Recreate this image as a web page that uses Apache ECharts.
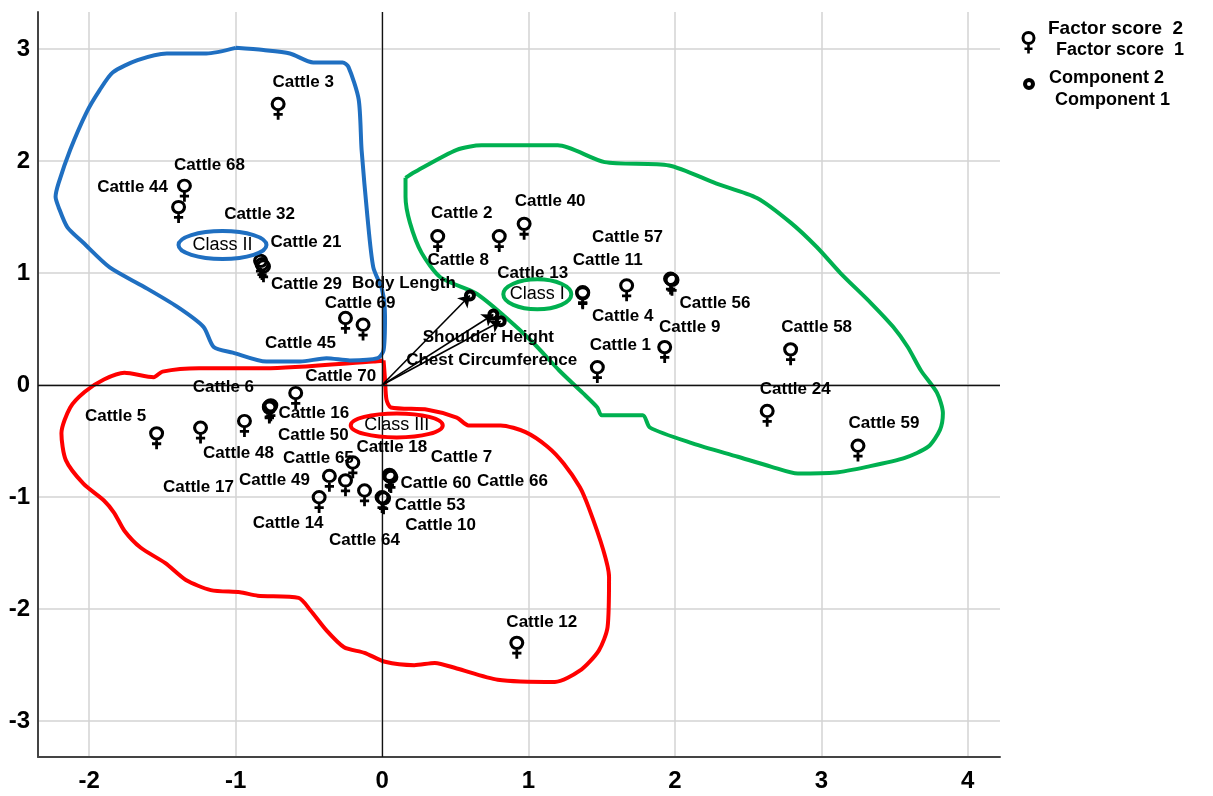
<!DOCTYPE html>
<html><head><meta charset="utf-8">
<script src="https://cdn.jsdelivr.net/npm/echarts@6/dist/echarts.min.js"></script>
<style>html,body{margin:0;padding:0;background:#fff}#chart{width:1213px;height:796px}</style>
</head><body><div id="chart"></div>
<script>
// ---------------- DATA ----------------
const cattleNames = [
  'Cattle 3','Cattle 68','Cattle 44','Cattle 32','Cattle 21','Cattle 29','Cattle 45','Cattle 69',
  'Cattle 2','Cattle 8','Cattle 40','Cattle 57','Cattle 56','Cattle 11','Cattle 13','Cattle 4','Cattle 9','Cattle 1','Cattle 58','Cattle 24','Cattle 59',
  'Cattle 5','Cattle 48','Cattle 17','Cattle 6','Cattle 16','Cattle 50','Cattle 70','Cattle 18','Cattle 65','Cattle 49','Cattle 14','Cattle 64','Cattle 7','Cattle 60','Cattle 66','Cattle 53','Cattle 10','Cattle 12'
];
const factorScore1 = [
  -0.71,-1.35,-1.39,-0.83,-0.82,-0.81,-0.25,-0.13,
  0.38,0.80,0.97,1.97,1.98,1.67,1.37,1.37,1.93,1.47,2.79,2.63,3.25,
  -1.54,-1.24,-0.94,-0.77,-0.76,-0.77,-0.59,-0.20,-0.36,-0.25,-0.43,-0.12,0.05,0.06,0.05,0.00,0.01,0.92
];
const factorScore2 = [
  2.47,1.74,1.55,1.07,1.04,1.02,0.56,0.50,
  1.29,1.29,1.40,0.91,0.90,0.85,0.79,0.78,0.30,0.12,0.28,-0.27,-0.58,
  -0.47,-0.42,-0.36,-0.23,-0.22,-0.24,-0.11,-0.73,-0.85,-0.89,-1.04,-0.98,-0.85,-0.86,-0.84,-1.04,-1.05,-2.34
];
const componentNames = ['Body Length','Shoulder Height','Chest Circumference'];
const component1 = [0.60,0.76,0.81];
const component2 = [0.80,0.63,0.57];

const classNames = ['Class I','Class II','Class III'];
const classCenter1 = [1.06,-1.09,0.10];
const classCenter2 = [0.81,1.25,-0.36];

const classIIOutline = [
  [-1.00,3.01],[-0.81,2.99],[-0.63,2.96],[-0.47,2.88],[-0.27,2.88],[-0.23,2.84],[-0.16,2.55],[-0.14,2.10],
  [-0.10,1.50],[-0.06,1.05],[0.00,0.85],[0.02,0.61],[0.01,0.31],[-0.03,0.24],[-0.22,0.22],[-0.38,0.24],
  [-0.56,0.21],[-0.79,0.21],[-1.02,0.29],[-1.15,0.34],[-1.22,0.52],[-1.40,0.70],[-1.63,0.88],[-1.86,1.05],
  [-2.04,1.27],[-2.15,1.41],[-2.21,1.59],[-2.23,1.68],[-2.21,1.80],[-2.13,2.10],[-2.02,2.43],[-1.93,2.63],
  [-1.84,2.79],[-1.67,2.90],[-1.47,2.96],[-1.20,2.96],[-1.00,3.01]
];
const classIOutline = [
  [0.16,1.85],[0.22,1.90],[0.51,2.10],[0.68,2.14],[1.20,2.14],[1.52,1.99],[1.96,1.96],[2.28,1.80],
  [2.56,1.67],[2.79,1.45],[2.97,1.23],[3.13,1.00],[3.34,0.73],[3.49,0.52],[3.59,0.34],[3.68,0.13],
  [3.79,-0.07],[3.83,-0.25],[3.81,-0.40],[3.73,-0.55],[3.57,-0.65],[3.31,-0.73],[3.10,-0.78],[2.84,-0.79],
  [2.66,-0.73],[2.43,-0.64],[2.12,-0.52],[1.83,-0.38],[1.78,-0.27],[1.50,-0.27],[1.47,-0.20],[1.37,-0.07],
  [1.21,0.13],[1.03,0.38],[0.84,0.61],[0.64,0.82],[0.40,0.96],[0.27,1.18],[0.19,1.45],[0.16,1.68],[0.16,1.85]
];
const classIIIOutline = [
  [0.01,0.22],[-0.06,0.21],[-0.80,0.15],[-1.25,0.15],[-1.50,0.12],[-1.56,0.07],[-1.76,0.11],[-1.90,0.05],
  [-2.03,-0.06],[-2.13,-0.20],[-2.19,-0.43],[-2.16,-0.67],[-2.04,-0.88],[-1.90,-1.03],[-1.83,-1.14],[-1.76,-1.30],
  [-1.65,-1.45],[-1.48,-1.59],[-1.34,-1.74],[-1.17,-1.83],[-0.97,-1.85],[-0.85,-1.88],[-0.57,-1.90],[-0.49,-2.01],
  [-0.38,-2.19],[-0.26,-2.34],[-0.12,-2.39],[0.02,-2.47],[0.22,-2.50],[0.36,-2.48],[0.51,-2.53],[0.79,-2.63],
  [1.18,-2.65],[1.35,-2.55],[1.48,-2.37],[1.54,-2.16],[1.55,-1.71],[1.51,-1.47],[1.41,-1.09],[1.35,-0.91],
  [1.24,-0.70],[1.13,-0.55],[0.98,-0.42],[0.81,-0.36],[0.59,-0.36],[0.51,-0.29],[0.31,-0.22],[0.06,-0.20],
  [0.03,-0.13],[0.02,0.05],[0.01,0.22]
];

const xTickValues = [-2,-1,0,1,2,3,4];
const yTickValues = [-3,-2,-1,0,1,2,3];

// ---------------- LAYOUT / STYLE ----------------
const LAYOUT = {
  labelOffset: {
    'Cattle 3':[25,-26],'Cattle 68':[25,-25],'Cattle 44':[-46,-24],'Cattle 32':[-1,-51],'Cattle 21':[44,-26],
    'Cattle 29':[43,14],'Cattle 45':[-45,21],'Cattle 69':[-3,-26],
    'Cattle 2':[24,-27],'Cattle 8':[-41,20],'Cattle 40':[26,-27],'Cattle 57':[-43,-46],'Cattle 56':[43,19],
    'Cattle 11':[-19,-30],'Cattle 13':[-50,-23],'Cattle 4':[40,19],'Cattle 9':[25,-24],'Cattle 1':[23,-26],
    'Cattle 58':[26,-26],'Cattle 24':[28,-26],'Cattle 59':[26,-27],
    'Cattle 5':[-41,-21],'Cattle 48':[38,21],'Cattle 17':[-46,62],'Cattle 6':[-46,-24],'Cattle 16':[43,4],
    'Cattle 50':[44,23],'Cattle 70':[45,-21],'Cattle 18':[39,-20],'Cattle 65':[-11,-22],'Cattle 49':[-71,-4],
    'Cattle 14':[-31,22],'Cattle 64':[0,45],'Cattle 7':[72,-23],'Cattle 60':[45,2],'Cattle 66':[123,2],
    'Cattle 53':[48,4],'Cattle 10':[57,23],'Cattle 12':[25,-25]
  },
  componentLabelOffset: {'Body Length':[-66,-12],'Shoulder Height':[-5,23],'Chest Circumference':[-9,39]},
  classColor: {'Class I':'#00b050','Class II':'#1f6fc1','Class III':'#ff0000'},
  classRadius: {'Class I':[34,15],'Class II':[44,14],'Class III':[46,12]}
};
const FONT = '"Liberation Sans", Arial, sans-serif';
const FEMALE_D = 'M0.5,7.5 A7,7 0 1 1 14.5,7.5 A7,7 0 1 1 0.5,7.5 Z M3.4,7.5 A4.1,4.1 0 1 0 11.6,7.5 A4.1,4.1 0 1 0 3.4,7.5 Z M6.2,14 L8.8,14 L8.8,16.3 L11.8,16.3 L11.8,19 L8.8,19 L8.8,23 L6.2,23 L6.2,19 L3.2,19 L3.2,16.3 L6.2,16.3 Z';
const RING_D = 'M0,6 A6,6 0 1 1 12,6 A6,6 0 1 1 0,6 Z M4,6 A2,2 0 1 0 8,6 A2,2 0 1 0 4,6 Z';

function tickFmt(ticks) {
  return function (v) {
    const r = Math.round(v);
    return (Math.abs(v - r) < 1e-6 && ticks.indexOf(r) >= 0) ? String(r) : '';
  };
}
const LABEL_STYLE = {color: '#000', fontSize: 17, fontWeight: 'bold', fontFamily: FONT, opacity: 1, textBorderWidth: 0};

const outlineSeries = [
  ['Class III', classIIIOutline],
  ['Class II', classIIOutline],
  ['Class I', classIOutline]
].map(([name, pts]) => ({
  type: 'line', name: name + ' outline', data: pts, showSymbol: false, symbol: 'none',
  smooth: 0.25, silent: true, z: 2,
  lineStyle: {color: LAYOUT.classColor[name], width: 4}
}));

const option = {
  animation: false,
  backgroundColor: '#ffffff',
  textStyle: {color: '#000', fontFamily: FONT},
  grid: {left: 38, right: 213, top: 12, bottom: 39, containLabel: false},
  xAxis: {
    type: 'value', min: -2.35, max: 4.22, minInterval: 1, maxInterval: 1,
    axisLine: {show: true, onZero: false, lineStyle: {color: '#444', width: 2}},
    axisTick: {show: false},
    axisLabel: {show: true, margin: 12, color: '#000', fontSize: 24, fontWeight: 'bold', fontFamily: FONT,
      showMinLabel: false, showMaxLabel: false, formatter: tickFmt(xTickValues)},
    splitLine: {show: true, showMinLine: false, showMaxLine: false, lineStyle: {color: '#d3d3d3', width: 1.5}}
  },
  yAxis: {
    type: 'value', min: -3.32, max: 3.33, minInterval: 1, maxInterval: 1,
    axisLine: {show: true, onZero: false, lineStyle: {color: '#444', width: 2}},
    axisTick: {show: false},
    axisLabel: {show: true, margin: 8, color: '#000', fontSize: 24, fontWeight: 'bold', fontFamily: FONT,
      showMinLabel: false, showMaxLabel: false, formatter: tickFmt(yTickValues)},
    splitLine: {show: true, showMinLine: false, showMaxLine: false, lineStyle: {color: '#d3d3d3', width: 1.5}}
  },
  series: [
    ...outlineSeries,
    {
      type: 'lines', name: 'Vectors', coordinateSystem: 'cartesian2d', silent: true, z: 3,
      symbol: ['none', 'arrow'], symbolSize: 11,
      lineStyle: {color: '#000', width: 1.6, opacity: 1},
      data: componentNames.map((n, i) => ({coords: [[0, 0], [component1[i], component2[i]]]}))
    },
    {
      type: 'scatter', name: 'Component', z: 4,
      symbol: 'path://' + RING_D, symbolSize: 12,
      itemStyle: {color: '#000', opacity: 1},
      label: Object.assign({show: true, position: 'inside', formatter: '{b}'}, LABEL_STYLE),
      data: componentNames.map((n, i) => ({name: n, value: [component1[i], component2[i]],
        label: Object.assign({offset: LAYOUT.componentLabelOffset[n]}, LABEL_STYLE)})),
      markLine: {
        silent: true, symbol: 'none', label: {show: false},
        lineStyle: {color: '#111', width: 1.3, type: 'solid'},
        data: [{xAxis: 0}, {yAxis: 0}]
      }
    },
    {
      type: 'scatter', name: 'Factor score', z: 5,
      symbol: 'path://' + FEMALE_D, symbolSize: [15, 23],
      itemStyle: {color: '#000', opacity: 1},
      label: Object.assign({show: true, position: 'inside', formatter: '{b}'}, LABEL_STYLE),
      data: cattleNames.map((n, i) => ({name: n, value: [factorScore1[i], factorScore2[i]],
        label: Object.assign({offset: LAYOUT.labelOffset[n]}, LABEL_STYLE)}))
    },
    {
      type: 'custom', name: 'Classes', coordinateSystem: 'cartesian2d', z: 6, silent: true,
      data: classNames.map((n, i) => [classCenter1[i], classCenter2[i]]),
      renderItem: function (params, api) {
        const p = api.coord([api.value(0), api.value(1)]);
        const name = classNames[params.dataIndex];
        const r = LAYOUT.classRadius[name];
        return {
          type: 'group',
          children: [
            {type: 'text', style: {text: name, x: p[0], y: p[1], align: 'center', verticalAlign: 'middle',
              fontSize: 18, fontFamily: FONT, fill: '#000'}},
            {type: 'ellipse', shape: {cx: p[0], cy: p[1], rx: r[0], ry: r[1]},
              style: {fill: 'none', stroke: LAYOUT.classColor[name], lineWidth: 4}}
          ]
        };
      }
    }
  ],
  graphic: [
    {type: 'ring', shape: {cx: 1028.5, cy: 38, r: 7, r0: 4}, style: {fill: '#000'}},
    {type: 'rect', shape: {x: 1027.2, y: 44.5, width: 2.6, height: 9}, style: {fill: '#000'}},
    {type: 'rect', shape: {x: 1024.5, y: 47.5, width: 8, height: 2.5}, style: {fill: '#000'}},
    {type: 'text', x: 1048, y: 29, style: {text: 'Factor score  2', verticalAlign: 'middle', fontSize: 19, fontWeight: 'bold', fontFamily: FONT, fill: '#000'}},
    {type: 'text', x: 1056, y: 50, style: {text: 'Factor score  1', verticalAlign: 'middle', fontSize: 18, fontWeight: 'bold', fontFamily: FONT, fill: '#000'}},
    {type: 'ring', shape: {cx: 1029, cy: 84, r: 6, r0: 2}, style: {fill: '#000'}},
    {type: 'text', x: 1049, y: 78, style: {text: 'Component 2', verticalAlign: 'middle', fontSize: 18, fontWeight: 'bold', fontFamily: FONT, fill: '#000'}},
    {type: 'text', x: 1055, y: 100, style: {text: 'Component 1', verticalAlign: 'middle', fontSize: 18, fontWeight: 'bold', fontFamily: FONT, fill: '#000'}}
  ]
};

const chart = echarts.init(document.getElementById('chart'), null, {renderer: 'canvas'});
chart.setOption(option);
</script>
</body></html>
